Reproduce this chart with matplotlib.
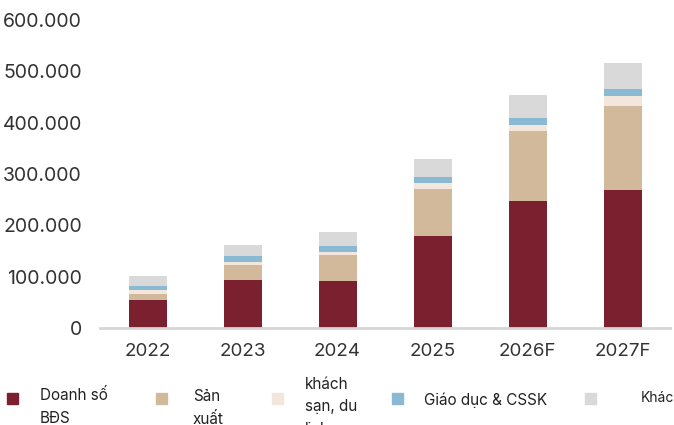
import matplotlib
matplotlib.use("Agg")
import matplotlib.pyplot as plt
from matplotlib.patches import Rectangle
from matplotlib.ticker import FuncFormatter

plt.rcParams['font.family'] = ['Inter', 'DejaVu Sans']

years = ['2022', '2023', '2024', '2025', '2026F', '2027F']
series_names = ['Doanh số\nBĐS', 'Sản\nxuất', 'khách\nsạn, du\nlịch', 'Giáo dục & CSSK', 'Khác']
doanh_so_bds = [54500, 93500, 92000, 179000, 247000, 268000]
san_xuat = [12000, 29000, 50000, 91000, 136000, 164000]
khach_san = [7000, 7000, 6000, 12000, 13000, 19500]
giao_duc = [8500, 11000, 11000, 12000, 12500, 13500]
khac = [19000, 21000, 28000, 36000, 46000, 52000]

colors = ['#7b202e', '#d3b99c', '#f3e7dd', '#8ab9d4', '#d9d9d9']
values = [doanh_so_bds, san_xuat, khach_san, giao_duc, khac]

W, H = 674, 425
fig = plt.figure(figsize=(W / 100, H / 100), dpi=100)
ax = fig.add_axes([100 / W, (H - 328) / H, 570 / W, 308 / H])

x = list(range(len(years)))
bottom = [0] * len(years)
for vals, c in zip(values, colors):
    ax.bar(x, vals, width=0.4, bottom=bottom, color=c, edgecolor='none')
    bottom = [b + v for b, v in zip(bottom, vals)]

ax.set_xlim(-0.5, 5.5)
ax.set_ylim(0, 600000)
ax.set_yticks(range(0, 600001, 100000))
ax.yaxis.set_major_formatter(FuncFormatter(lambda v, p: f'{int(v):,}'.replace(',', '.')))
ax.set_xticks(x)
ax.set_xticklabels(years)
ax.tick_params(axis='y', length=0, pad=13, labelsize=14, labelcolor='#333333')
ax.tick_params(axis='x', length=0, pad=11, labelsize=13.5, labelcolor='#333333')
for s in ['top', 'right', 'left']:
    ax.spines[s].set_visible(False)
ax.spines['bottom'].set_color('#d6d6d6')
ax.spines['bottom'].set_linewidth(2)

# legend drawn by hand, entries spaced like the original
# (the reference cuts the wrapped labels off at the bottom edge too)
mark_x = [12, 161, 277, 397, 590]
text_x = [40, 193, 305, 424, 641]
text_y = [407, 408, 407, 400, 398]
sizes = [11, 11, 11, 11, 10]
for name, c, mx, tx, ty, fs in zip(series_names, colors, mark_x, text_x, text_y, sizes):
    fig.patches.append(Rectangle(((mx - 5.5) / W, (H - 403.5) / H), 11 / W, 11 / H,
                                 transform=fig.transFigure, color=c))
    fig.text(tx / W, (H - ty) / H, name, fontsize=fs, color='#222222',
             ha='left', va='center', linespacing=1.6)

fig.savefig('out.png', dpi=100)
